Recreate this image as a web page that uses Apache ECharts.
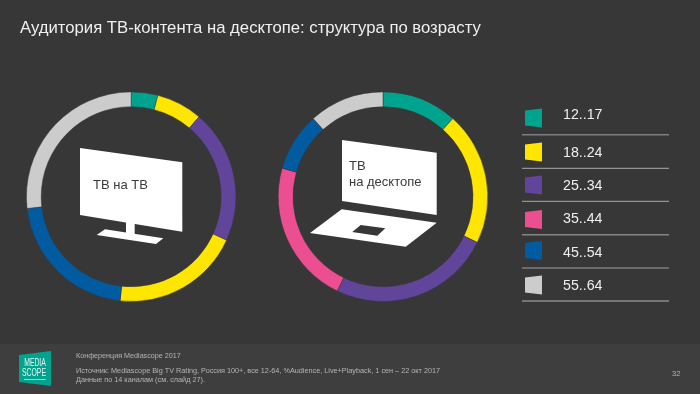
<!DOCTYPE html>
<html><head><meta charset="utf-8">
<style>html,body{margin:0;padding:0;background:#373737}#c{width:700px;height:394px}</style>
<script src="https://cdn.jsdelivr.net/npm/echarts@6/dist/echarts.min.js"></script>
</head><body><div id="c"></div>
<script>
const categories = ['12..17','18..24','25..34','35..44','45..54','55..64'];
const tvValues = [4.1,7.1,20.6,19.9,21.5,26.8];
const desktopValues = [11.6,20.6,25.0,22.2,9.0,11.6];
const legendColors = ['#00A38D','#FFE600','#60459B','#EC4F91','#005BA1','#CCCCCC'];
const tvColors = ['#00A38D','#FFE600','#60459B','#FFE600','#005BA1','#CCCCCC'];
const title = 'Аудитория ТВ-контента на десктопе: структура по возрасту';
const tvLabel = 'ТВ на ТВ';
const desktopLabel = 'ТВ\nна десктопе';
const footerTop = 'Конференция Mediascope 2017';
const footerSource = 'Источник: Mediascope Big TV Rating, Россия 100+, все 12-64, %Audience, Live+Playback, 1 сен – 22 окт 2017\nДанные по 14 каналам (см. слайд 27).';
const pageNumber = '32';
const legendSwatchY = [118,152,185,219.5,250.5,285];
const legendTextY = [115,153,186,219,253,286];
const legendLineY = [134.7,168.3,201.3,234.7,268,301];
const legendLineColor = ['#7E7E7E','#ABABAB','#ABABAB','#858585','#A0A0A0','#B5B5B5'];
const legendLineWidth = [1.5,1,1,1.5,1,1];

const BG='#373737', FONT='"Liberation Sans", Arial, sans-serif';
const pieSeries=(center,values,colors)=>({
  type:'pie',center,radius:[90,104.8],startAngle:90,clockwise:true,silent:true,animation:false,
  label:{show:false},labelLine:{show:false},
  itemStyle:{borderColor:BG,borderWidth:0.5},
  data:categories.map((name,i)=>({name,value:values[i],itemStyle:{color:colors[i]}}))
});
const poly=(points,fill)=>({type:'polygon',shape:{points},style:{fill},silent:true});
const txt=(x,y,text,size,fill,extra,tr)=>Object.assign({type:'text',x,y,silent:true,style:Object.assign({text,fill,font:size+'px '+FONT,textVerticalAlign:'middle'},extra||{})},tr||{});

const graphics=[
  {type:'rect',z:-1,shape:{x:0,y:344,width:700,height:50},style:{fill:'#3E3E3E'},silent:true},
  txt(20,28,title,16.7,'#F0F0F0'),
  poly([[80,148],[182.3,162.3],[182.3,231.7],[80,215]],'#FFFFFF'),
  poly([[126,218],[134.7,220],[134.7,236],[126,236]],'#FFFFFF'),
  poly([[105,229.3],[163.3,238.3],[156,244],[96.7,235]],'#FFFFFF'),
  txt(93,185,tvLabel,13,'#3A3A3A'),
  poly([[342,140],[436.7,152.7],[436.7,215],[342,201]],'#FFFFFF'),
  poly([[341.7,209.3],[436.7,222.7],[405.7,246.7],[310,233]],'#FFFFFF'),
  poly([[360.7,225],[385.3,228.3],[377.3,235.7],[352.3,232]],BG),
  txt(349,174,desktopLabel,13,'#3A3A3A',{lineHeight:16}),
  poly([[19,355],[51,351],[51,386],[19,382]],'#00A38D'),
  txt(35,363,'MEDIA',11,'#E8F7F4',{align:'center'},{scaleX:0.62}),
  txt(34,372.5,'SCOPE',11,'#E8F7F4',{align:'center'},{scaleX:0.62}),
  {type:'line',silent:true,shape:{x1:24,y1:379.5,x2:46,y2:379.5},style:{stroke:'#8FD8CC',lineWidth:1}},
  txt(76,356.5,footerTop,7.2,'#B5B5B5'),
  txt(76,375,footerSource,7.28,'#B5B5B5',{lineHeight:9}),
  txt(672,373.5,pageNumber,7.5,'#B5B5B5')
];
categories.forEach((c,i)=>{
  const y=legendSwatchY[i];
  graphics.push(poly([[525,y-7.5],[542,y-9.5],[542,y+9.5],[525,y+7.5]],legendColors[i]));
  graphics.push(txt(563,legendTextY[i],c,14.2,'#EFEFEF'));
  graphics.push({type:'line',silent:true,shape:{x1:522,y1:legendLineY[i],x2:669,y2:legendLineY[i]},style:{stroke:legendLineColor[i],lineWidth:legendLineWidth[i]}});
});

const chart=echarts.init(document.getElementById('c'),null,{renderer:'canvas'});
chart.setOption({
  backgroundColor:BG,animation:false,
  series:[pieSeries([131.2,196.7],tvValues,tvColors),pieSeries([383,196.7],desktopValues,legendColors)],
  graphic:graphics
});
</script></body></html>
